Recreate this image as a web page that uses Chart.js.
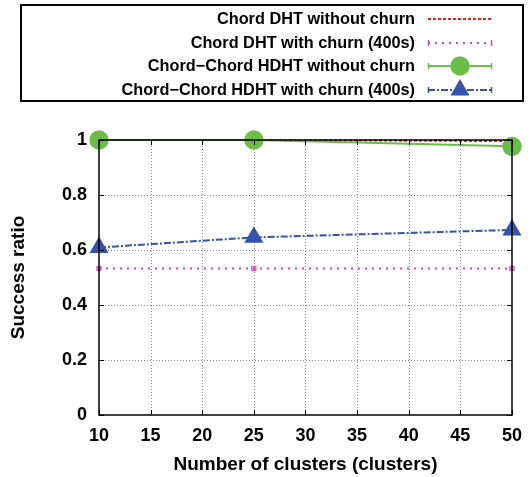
<!DOCTYPE html>
<html>
<head>
<meta charset="utf-8">
<script src="https://cdn.jsdelivr.net/npm/chart.js@4/dist/chart.umd.min.js"></script>
<style>
html,body{margin:0;padding:0;background:#fff;}
#wrap{width:532px;height:477px;}
</style>
</head>
<body>
<div id="wrap"><canvas id="c" width="532" height="477"></canvas></div>
<script>
const clusters = [10, 25, 50];
const seriesNames = [
  'Chord DHT without churn',
  'Chord DHT with churn (400s)',
  'Chord\u2212Chord HDHT without churn',
  'Chord\u2212Chord HDHT with churn (400s)'
];
const chordNoChurn = [1.0, 1.0, 0.996];
const chordChurn = [0.533, 0.533, 0.533];
const hdhtNoChurn = [1.0, 1.0, 0.977];
const hdhtChurn = [0.609, 0.646, 0.673];
const xTicks = [10, 15, 20, 25, 30, 35, 40, 45, 50];
const yTicks = [0, 0.2, 0.4, 0.6, 0.8, 1];

const FONT = '"Liberation Sans", Arial, Helvetica, sans-serif';
const pts = arr => clusters.map((c, i) => ({x: c, y: arr[i]}));

const styles = [
  {color: '#ee1c1c', dash: [3, 2], width: 2, pointStyle: false, radius: 0, order: 4},
  {color: '#c84ca8', dash: [2, 5], width: 2, pointStyle: 'rect', radius: 3, order: 3},
  {color: '#6cbd45', dash: [], width: 2, pointStyle: 'circle', radius: 9.7, order: 2},
  {color: '#3553a8', dash: [7, 2, 2, 2], width: 2, pointStyle: 'triangle', radius: 11, order: 1}
];
const values = [chordNoChurn, chordChurn, hdhtNoChurn, hdhtChurn];

const datasets = values.map((v, i) => ({
  label: seriesNames[i],
  data: pts(v),
  borderColor: styles[i].color,
  backgroundColor: styles[i].color,
  borderWidth: styles[i].width,
  borderDash: styles[i].dash,
  pointStyle: styles[i].pointStyle,
  pointRadius: styles[i].radius,
  pointHoverRadius: styles[i].radius,
  pointBorderWidth: i === 1 ? 1 : 0,
  pointBackgroundColor: i === 1 ? 'rgba(200,76,168,0.5)' : styles[i].color,
  pointBorderColor: styles[i].color,
  tension: 0,
  fill: false,
  order: styles[i].order,
  clip: false
}));

const gridPlugin = {
  id: 'dotGrid',
  beforeDatasetsDraw(chart) {
    const ctx = chart.ctx, a = chart.chartArea;
    const xs = chart.scales.x, ys = chart.scales.y;
    ctx.save();
    ctx.strokeStyle = '#8c8c8c';
    ctx.lineWidth = 1;
    ctx.setLineDash([1, 2]);
    ctx.beginPath();
    xTicks.slice(1, -1).forEach(t => {
      const px = Math.round(xs.getPixelForValue(t)) + 0.5;
      ctx.moveTo(px, a.top); ctx.lineTo(px, a.bottom);
    });
    yTicks.slice(1, -1).forEach(t => {
      const py = Math.round(ys.getPixelForValue(t)) + 0.5;
      ctx.moveTo(a.left, py); ctx.lineTo(a.right, py);
    });
    ctx.stroke();
    ctx.restore();
  }
};

const framePlugin = {
  id: 'frame',
  afterDatasetsDraw(chart) {
    const ctx = chart.ctx, a = chart.chartArea;
    const xs = chart.scales.x, ys = chart.scales.y;
    ctx.save();
    ctx.strokeStyle = '#000';
    ctx.lineWidth = 1.5;
    ctx.setLineDash([]);
    ctx.strokeRect(a.left, a.top, a.right - a.left, a.bottom - a.top);
    ctx.lineWidth = 1;
    const L = 5;
    ctx.beginPath();
    xTicks.forEach(t => {
      const px = Math.round(xs.getPixelForValue(t)) + 0.5;
      ctx.moveTo(px, a.bottom); ctx.lineTo(px, a.bottom - L);
      ctx.moveTo(px, a.top); ctx.lineTo(px, a.top + L);
    });
    yTicks.forEach(t => {
      const py = Math.round(ys.getPixelForValue(t)) + 0.5;
      ctx.moveTo(a.left, py); ctx.lineTo(a.left + L, py);
      ctx.moveTo(a.right, py); ctx.lineTo(a.right - L, py);
    });
    ctx.stroke();
    ctx.restore();
  }
};

const legendPlugin = {
  id: 'boxLegend',
  afterDraw(chart) {
    const ctx = chart.ctx;
    ctx.save();
    ctx.strokeStyle = '#000';
    ctx.lineWidth = 2;
    ctx.setLineDash([]);
    ctx.strokeRect(21, 5, 502, 96);
    const rows = [19, 43, 66, 90];
    ctx.font = 'bold 16.3px ' + FONT;
    ctx.textAlign = 'right';
    ctx.textBaseline = 'middle';
    ctx.fillStyle = '#000';
    chart.data.datasets.forEach((ds, i) => {
      const y = rows[i];
      ctx.fillStyle = '#000';
      ctx.fillText(ds.label, 415, y + 1);
      ctx.strokeStyle = ds.borderColor;
      ctx.lineWidth = ds.borderWidth;
      ctx.setLineDash(ds.borderDash);
      ctx.beginPath();
      ctx.moveTo(428, y); ctx.lineTo(492, y);
      ctx.stroke();
      ctx.setLineDash([]);
      if (i >= 1) {
        ctx.lineWidth = 1.5;
        ctx.beginPath();
        ctx.moveTo(428.5, y - 3); ctx.lineTo(428.5, y + 3);
        ctx.moveTo(491.5, y - 3); ctx.lineTo(491.5, y + 3);
        ctx.stroke();
      }
      if (ds.pointStyle && i >= 2) {
        ctx.fillStyle = ds.pointBackgroundColor;
        ctx.strokeStyle = ds.pointBorderColor;
        ctx.lineWidth = ds.pointBorderWidth;
        Chart.helpers.drawPoint(ctx, {
          pointStyle: ds.pointStyle,
          radius: ds.pointRadius,
          rotation: 0,
          borderWidth: ds.pointBorderWidth
        }, 460, y);
      }
    });
    ctx.restore();
  }
};

new Chart(document.getElementById('c'), {
  type: 'line',
  data: {datasets},
  options: {
    responsive: false,
    animation: false,
    events: [],
    layout: {padding: {top: 140, right: 20, left: 0, bottom: 0}},
    plugins: {legend: {display: false}, tooltip: {enabled: false}},
    scales: {
      x: {
        type: 'linear',
        min: 10, max: 50,
        afterBuildTicks(s) { s.ticks = xTicks.map(v => ({value: v})); },
        afterFit(s) { s.height = 62; },
        grid: {display: false, drawTicks: false},
        border: {display: false},
        ticks: {color: '#000', padding: 10, font: {family: FONT, size: 18, weight: 'bold'}, maxRotation: 0},
        title: {display: true, text: 'Number of clusters (clusters)', color: '#000', padding: {top: 0, bottom: 1}, font: {family: FONT, size: 19, weight: 'bold'}}
      },
      y: {
        type: 'linear',
        min: 0, max: 1,
        afterBuildTicks(s) { s.ticks = yTicks.map(v => ({value: v})); },
        afterFit(s) { s.width = 99; },
        grid: {display: false, drawTicks: false},
        border: {display: false},
        ticks: {color: '#000', padding: 12, font: {family: FONT, size: 18, weight: 'bold'}, callback: v => String(v)},
        title: {display: true, text: 'Success ratio', color: '#000', padding: {top: 7, bottom: 0}, font: {family: FONT, size: 19, weight: 'bold'}}
      }
    }
  },
  plugins: [gridPlugin, framePlugin, legendPlugin]
});
</script>
</body>
</html>
